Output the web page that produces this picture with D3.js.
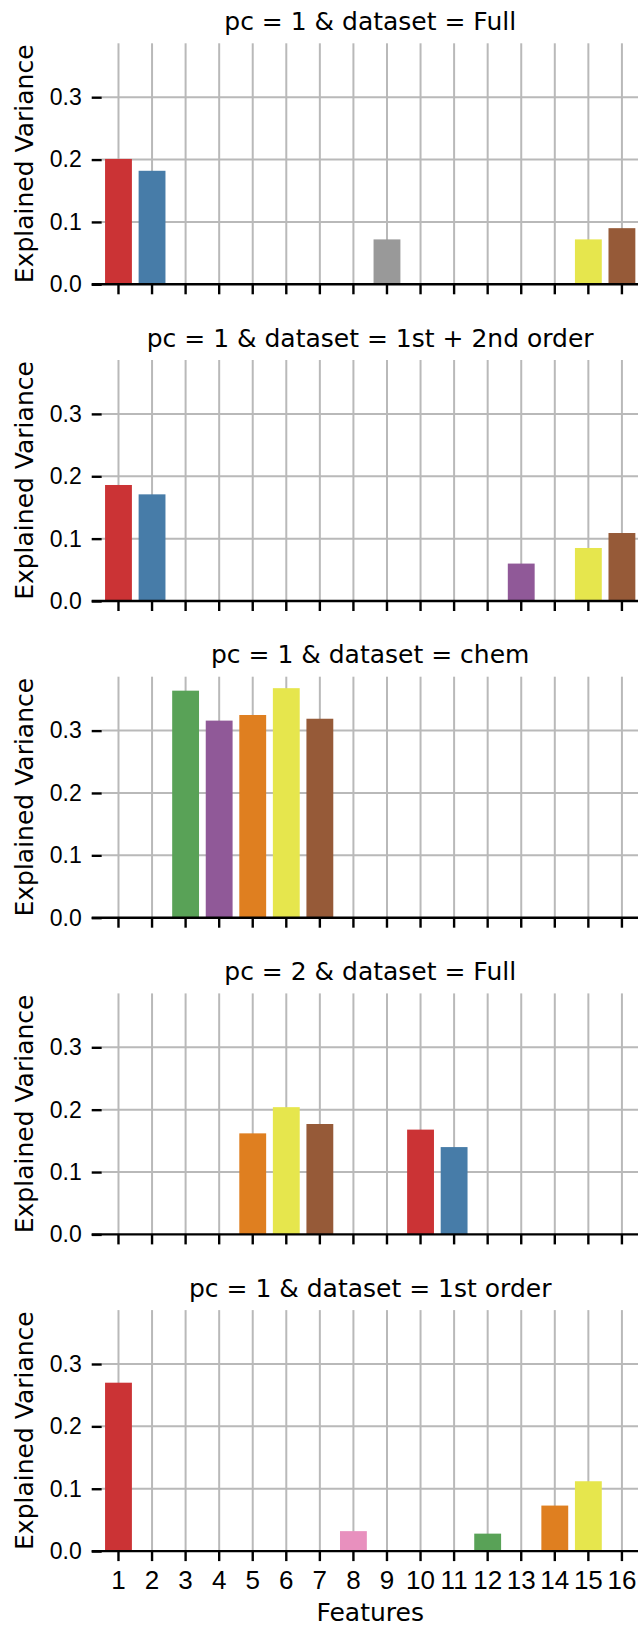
<!DOCTYPE html>
<html>
<head>
<meta charset="utf-8">
<script src="https://cdn.jsdelivr.net/npm/d3@7"></script>
<style>
  body { margin: 0; background: #fff; }
  svg { display: block; font-family: "DejaVu Sans", sans-serif; }
  .grid line { stroke: #b9b9b9; stroke-width: 2; }
  .axis text { fill: #000; }
  .axis line { stroke: #000; stroke-width: 2.4; }
  .y.axis text { font-size: 23px; }
  .x.axis text { font-size: 26px; }
</style>
</head>
<body>
<script>
// categories on the x axis
var features = ["1", "2", "3", "4", "5", "6", "7", "8", "9", "10", "11", "12", "13", "14", "15", "16"];
var yTicks = [0, 0.1, 0.2, 0.3];

// Set1 hue groups (seaborn desaturated to 0.75)
var hueNames = ["red", "blue", "green", "purple", "orange", "yellow", "brown", "pink", "grey"];
var hueColors = ["#cb3335", "#477ca8", "#59a257", "#905998", "#df7f20", "#e6e64d", "#965a38", "#e890be", "#999999"];

var titles = [
  "pc = 1 & dataset = Full",
  "pc = 1 & dataset = 1st + 2nd order",
  "pc = 1 & dataset = chem",
  "pc = 2 & dataset = Full",
  "pc = 1 & dataset = 1st order"
];

var pc1Full = [
  { feature: "1",  value: 0.201, hue: "red" },
  { feature: "2",  value: 0.182, hue: "blue" },
  { feature: "9",  value: 0.072, hue: "grey" },
  { feature: "15", value: 0.072, hue: "yellow" },
  { feature: "16", value: 0.090, hue: "brown" }
];
var pc1FirstSecond = [
  { feature: "1",  value: 0.186, hue: "red" },
  { feature: "2",  value: 0.171, hue: "blue" },
  { feature: "13", value: 0.060, hue: "purple" },
  { feature: "15", value: 0.085, hue: "yellow" },
  { feature: "16", value: 0.109, hue: "brown" }
];
var pc1Chem = [
  { feature: "3", value: 0.364, hue: "green" },
  { feature: "4", value: 0.316, hue: "purple" },
  { feature: "5", value: 0.325, hue: "orange" },
  { feature: "6", value: 0.368, hue: "yellow" },
  { feature: "7", value: 0.319, hue: "brown" }
];
var pc2Full = [
  { feature: "5",  value: 0.162, hue: "orange" },
  { feature: "6",  value: 0.204, hue: "yellow" },
  { feature: "7",  value: 0.177, hue: "brown" },
  { feature: "10", value: 0.168, hue: "red" },
  { feature: "11", value: 0.140, hue: "blue" }
];
var pc1First = [
  { feature: "1",  value: 0.270, hue: "red" },
  { feature: "8",  value: 0.032, hue: "pink" },
  { feature: "12", value: 0.028, hue: "green" },
  { feature: "14", value: 0.073, hue: "orange" },
  { feature: "15", value: 0.112, hue: "yellow" }
];

var panels = [pc1Full, pc1FirstSecond, pc1Chem, pc2Full, pc1First];

var width = 638, height = 1626;
var left = 101.7, right = 638.7;
var top0 = 43.3, step = 316.7, plotH = 241;
var tickLen = 10;

var svg = d3.select("body").append("svg")
  .attr("width", width)
  .attr("height", height);

var x = d3.scaleBand()
  .domain(features)
  .range([left, right])
  .paddingInner(0.2)
  .paddingOuter(0.1);

// shared y like sharey=True, matplotlib 5% top margin
var yMax = 1.05 * d3.max(panels, function(p) { return d3.max(p, function(d) { return d.value; }); });
var y = d3.scaleLinear().domain([0, yMax]).range([plotH, 0]);

var color = d3.scaleOrdinal().domain(hueNames).range(hueColors);

panels.forEach(function(data, i) {
  var g = svg.append("g").attr("transform", "translate(0," + (top0 + i * step) + ")");
  var last = i === panels.length - 1;

  // grid
  var grid = g.append("g").attr("class", "grid");
  grid.selectAll("line.v").data(features).enter().append("line")
    .attr("class", "v")
    .attr("x1", function(d) { return x(d) + x.bandwidth() / 2; })
    .attr("x2", function(d) { return x(d) + x.bandwidth() / 2; })
    .attr("y1", 0)
    .attr("y2", plotH);
  grid.selectAll("line.h").data(yTicks.slice(1)).enter().append("line")
    .attr("class", "h")
    .attr("x1", left)
    .attr("x2", right)
    .attr("y1", function(d) { return y(d); })
    .attr("y2", function(d) { return y(d); });

  // bars
  g.selectAll("rect.bar").data(data).enter().append("rect")
    .attr("class", "bar")
    .attr("x", function(d) { return x(d.feature); })
    .attr("width", x.bandwidth())
    .attr("y", function(d) { return y(d.value); })
    .attr("height", function(d) { return plotH - y(d.value); })
    .style("fill", function(d) { return color(d.hue); });

  // y axis (no spine, outward ticks)
  var yAxis = g.append("g").attr("class", "y axis")
    .attr("transform", "translate(" + left + ",0)")
    .call(d3.axisLeft(y).tickValues(yTicks).tickFormat(d3.format(".1f"))
      .tickSize(tickLen).tickPadding(10));
  yAxis.select(".domain").remove();

  // x axis
  var xAxis = g.append("g").attr("class", "x axis")
    .attr("transform", "translate(0," + plotH + ")")
    .call(d3.axisBottom(x).tickSize(tickLen).tickSizeOuter(0).tickPadding(9.5));
  xAxis.select(".domain").remove();
  if (!last) xAxis.selectAll("text").remove();

  // bottom spine runs under the y tick marks too
  g.append("line")
    .attr("x1", left - tickLen)
    .attr("x2", right)
    .attr("y1", plotH)
    .attr("y2", plotH)
    .style("stroke", "#000")
    .style("stroke-width", 2.4);

  g.append("text")
    .attr("x", (left + right) / 2)
    .attr("y", -13.3)
    .attr("text-anchor", "middle")
    .style("font-size", "25px")
    .text(titles[i]);

  g.append("text")
    .attr("transform", "translate(33.3," + (plotH / 2) + ") rotate(-90)")
    .attr("text-anchor", "middle")
    .style("font-size", "25px")
    .text("Explained Variance");

  if (last) {
    g.append("text")
      .attr("x", (left + right) / 2)
      .attr("y", plotH + 70)
      .attr("text-anchor", "middle")
      .style("font-size", "25px")
      .text("Features");
  }
});
</script>
</body>
</html>
